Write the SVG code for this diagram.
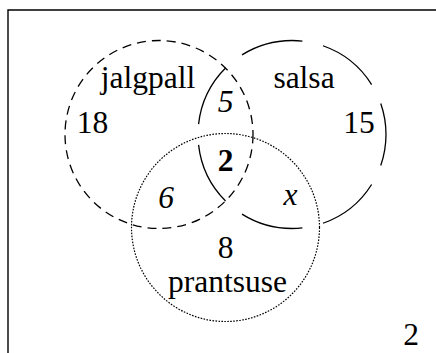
<svg xmlns="http://www.w3.org/2000/svg" width="436" height="353" viewBox="0 0 436 353">
<style>
text{font-size:31.5px;fill:#000;text-anchor:middle}
.it{font-style:italic}
.bf{font-weight:bold}
.c{fill:none;stroke:#000}
</style>
<rect width="436" height="353" fill="#fff"/>
<path d="M8 353V10H436" fill="none" stroke="#000" stroke-width="1.4"/>
<g font-family="Liberation Serif, DejaVu Serif, serif">
<g id="jalgpall">
<circle class="c" cx="159" cy="134.5" r="94" stroke-width="1.3" stroke-dasharray="9 6"/>
<text x="148" y="88">jalgpall</text>
<text x="92.5" y="133">18</text>
</g>
<g id="salsa">
<circle class="c" cx="292" cy="134.5" r="94" stroke-width="1.3" pathLength="360" stroke-dasharray="38.6 12.83" stroke-dashoffset="19.3"/>
<text x="304" y="88">salsa</text>
<text x="359" y="133">15</text>
</g>
<g id="prantsuse">
<circle class="c" cx="225.5" cy="227.5" r="94" stroke-width="1.2" stroke-dasharray="1.6 1.4"/>
<text x="225.5" y="258">8</text>
<text x="227.5" y="292">prantsuse</text>
</g>
<g id="regions">
<text class="it" x="225.5" y="112">5</text>
<text class="bf" x="225.5" y="171">2</text>
<text class="it" x="166" y="208">6</text>
<text class="it" x="290.5" y="205">x</text>
<text x="411" y="345">2</text>
</g>
</g>
<g id="connectors"/>
</svg>
